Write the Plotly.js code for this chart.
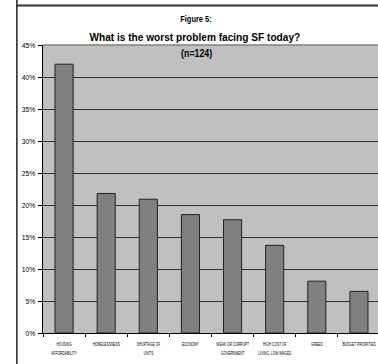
<!DOCTYPE html>
<html><head><meta charset="utf-8">
<script src="https://cdn.plot.ly/plotly-3.0.1.min.js"></script>
<style>html,body{margin:0;padding:0;overflow:hidden;background:#fff}</style>
</head><body><div id="chart" style="width:380px;height:364px"></div>
<script>
const categories = ["HOUSING<br>AFFORDABILITY","HOMELESSNESS","SHORTAGE OF<br>UNITS","ECONOMY","WEAK OR CORRUPT<br>GOVERNMENT","HIGH COST OF<br>LIVING, LOW WAGES","GREED","BUDGET PRIORITIES"];
const values = [0.42, 0.218, 0.209, 0.185, 0.177, 0.137, 0.081, 0.065];
const yTickVals = [0,0.05,0.10,0.15,0.20,0.25,0.30,0.35,0.40,0.45];
const yTickText = ["0%","5%","10%","15%","20%","25%","30%","35%","40%","45%"];
const titleLines = ["Figure 5:", "What is the worst problem facing SF today?", "(n=124)"];

const font = "Liberation Sans, Arial, sans-serif";
const trace = {
  type: "bar", x: categories, y: values,
  marker: {color: "#808080", line: {color: "#222", width: 1}},
  hoverinfo: "none"
};
const layout = {
  width: 380, height: 364,
  margin: {l: 43, r: 0, t: 45, b: 31},
  paper_bgcolor: "#fff", plot_bgcolor: "#c0c0c0",
  bargap: 0.57,
  showlegend: false,
  font: {family: font, color: "#000"},
  xaxis: {
    tickfont: {size: 5.5, family: font}, tickangle: 0, showline: true, linecolor: "#000", linewidth: 1,
    ticks: "outside", ticklen: 3, tickcolor: "#000", tickson: "boundaries",
    showgrid: false, fixedrange: true, ticklabelstandoff: 5
  },
  yaxis: {
    range: [0, 0.45], tickvals: yTickVals, ticktext: yTickText,
    tickfont: {size: 8, family: font}, showline: true, linecolor: "#000", linewidth: 1,
    ticks: "outside", ticklen: 4, tickcolor: "#000", ticklabelstandoff: 1,
    showgrid: true, gridcolor: "#333", gridwidth: 1, zeroline: false, fixedrange: true
  },
  shapes: [
    {type: "line", xref: "paper", yref: "paper", x0: 0, x1: 1, y0: 1, y1: 1, line: {color: "#808080", width: 1.5}},
    {type: "line", xref: "paper", yref: "paper", x0: -0.0775, x1: -0.0775, y0: -0.2, y1: 1.2, line: {color: "#222", width: 1.5}},
    {type: "line", xref: "paper", yref: "paper", x0: -0.08, x1: 1.05, y0: 1.1375, y1: 1.1375, line: {color: "#333", width: 2}}
  ],
  annotations: [
    {text: "<b>" + titleLines[0] + "</b>", xref: "paper", yref: "paper", x: 0.455, y: 1.092, xanchor: "center", yanchor: "middle", showarrow: false, font: {size: 8.5, family: font}},
    {text: "<b>" + titleLines[1] + "</b>", xref: "paper", yref: "paper", x: 0.45, y: 1.028, xanchor: "center", yanchor: "middle", showarrow: false, font: {size: 11.5, family: font}},
    {text: "<b>" + titleLines[2] + "</b>", xref: "paper", yref: "paper", x: 0.455, y: 0.969, xanchor: "center", yanchor: "middle", showarrow: false, font: {size: 10, family: font}}
  ]
};

function squeeze(sel, sx) {
  document.querySelectorAll(sel).forEach(t => {
    const bb = t.getBBox();
    const cx = bb.x + bb.width / 2;
    const ex = t.getAttribute("transform") || "";
    t.setAttribute("transform", ex + " translate(" + cx + ",0) scale(" + sx + ",1) translate(" + (-cx) + ",0)");
  });
}
Plotly.newPlot("chart", [trace], layout, {displayModeBar: false, staticPlot: true}).then(() => {
  document.querySelectorAll(".xtick text").forEach(t => {
    const lines = t.querySelectorAll("tspan.line");
    lines.forEach((ts, i) => { if (i > 0) ts.setAttribute("dy", "1.8em"); });
  });
  squeeze(".xtick text", 0.6);
  document.querySelectorAll(".ytick text").forEach(t => {
    const bb = t.getBBox();
    const rx = bb.x + bb.width;
    const ex = t.getAttribute("transform") || "";
    t.setAttribute("transform", ex + " translate(" + rx + ",0) scale(0.85,1) translate(" + (-rx) + ",0)");
  });
  squeeze(".annotation-text-g text", 0.88);
});
</script></body></html>
